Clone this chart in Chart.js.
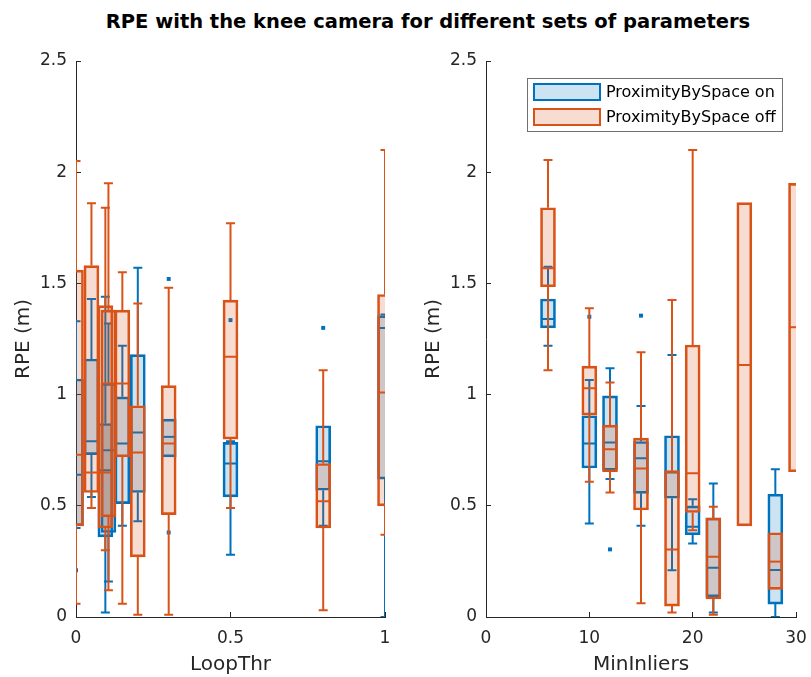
<!DOCTYPE html>
<html lang="en">
<head>
<meta charset="UTF-8">
<title>RPE with the knee camera</title>
<script src="https://cdn.jsdelivr.net/npm/chart.js"></script>
<style>
    body {
        margin: 0;
        background-color: #ffffff;
        font-family: "DejaVu Sans", sans-serif;
    }

    #figure {
        position: relative;
        width: 811px;
        height: 677px;
        overflow: hidden;
    }

    h1 {
        position: absolute;
        top: 12px;
        left: 0;
        width: 856px;
        margin: 0;
        text-align: center;
        font-size: 19.5px;
        line-height: 19px;
        font-weight: bold;
        color: #000000;
    }

    canvas {
        position: absolute;
        top: 0;
    }

    #loopChart {
        left: 0;
    }

    #inliersChart {
        left: 410px;
    }
</style>
</head>
<body>
<div id="figure">
    <h1>RPE with the knee camera for different sets of parameters</h1>
    <canvas id="loopChart" width="405" height="677"></canvas>
    <canvas id="inliersChart" width="401" height="677"></canvas>
</div>
<script>
    // LoopThr: box statistics per threshold (whisker low, Q1, median, Q3, whisker high)
    const loopThr = [0, 0.05, 0.095, 0.105, 0.15, 0.2, 0.3, 0.5, 0.8, 1];

    const loopOnLow  = [0.40, 0.54, 0.02, 0.16, 0.41, 0.43, 0.72, 0.28, 0.41, 0.00];
    const loopOnQ1   = [0.41, 0.73, 0.36, 0.38, 0.51, 0.56, 0.72, 0.54, 0.57, 0.62];
    const loopOnMed  = [0.64, 0.79, 0.66, 0.75, 0.78, 0.83, 0.81, 0.69, 0.70, 1.30];
    const loopOnQ3   = [1.07, 1.16, 0.87, 1.05, 0.99, 1.18, 0.89, 0.785, 0.86, 1.355];
    const loopOnHigh = [1.33, 1.43, 1.44, 1.32, 1.22, 1.57, 0.89, 0.79, 0.86, 1.36];

    const loopOffLow  = [0.06, 0.49, 0.30, 0.12, 0.06, 0.01, 0.01, 0.49, 0.03, 0.37];
    const loopOffQ1   = [0.41, 0.56, 0.40, 0.45, 0.72, 0.27, 0.46, 0.80, 0.40, 0.50];
    const loopOffMed  = [0.73, 0.65, 0.65, 1.05, 1.05, 0.74, 0.78, 1.17, 0.52, 1.01];
    const loopOffQ3   = [1.56, 1.58, 1.40, 1.38, 1.38, 0.95, 1.04, 1.425, 0.69, 1.45];
    const loopOffHigh = [2.05, 1.86, 1.84, 1.95, 1.55, 1.41, 1.48, 1.77, 1.11, 2.10];

    const loopOutX = [0, 0.3, 0.3, 0.5, 0.8];
    const loopOutY = [0.21, 1.52, 0.38, 1.335, 1.30];

    // MinInliers (null = no run with ProximityBySpace on)
    const minInliers = [6, 10, 12, 15, 18, 20, 22, 25, 28, 30];

    const inlOnLow  = [1.22, 0.42, 0.62, 0.41, 0.21, 0.33, 0.02, null, 0.00, null];
    const inlOnQ1   = [1.30, 0.67, 0.66, 0.556, 0.534, 0.37, 0.091, null, 0.058, null];
    const inlOnMed  = [1.34, 0.78, 0.785, 0.714, 0.65, 0.406, 0.222, null, 0.211, null];
    const inlOnQ3   = [1.43, 0.905, 0.994, 0.789, 0.815, 0.50, 0.445, null, 0.552, null];
    const inlOnHigh = [1.575, 1.066, 1.118, 0.949, 1.178, 0.529, 0.60, null, 0.664, null];

    const inlOffLow  = [1.11, 0.608, 0.56, 0.062, 0.02, 0.39, 0.01, 0.41, 0.124, 0.653];
    const inlOffQ1   = [1.485, 0.908, 0.653, 0.481, 0.049, 0.47, 0.081, 0.41, 0.124, 0.653];
    const inlOffMed  = [1.568, 1.028, 0.754, 0.668, 0.304, 0.646, 0.271, 1.133, 0.249, 1.303];
    const inlOffQ3   = [1.84, 1.128, 0.863, 0.804, 0.658, 1.223, 0.446, 1.863, 0.379, 1.95];
    const inlOffHigh = [2.055, 1.388, 1.054, 1.19, 1.425, 2.10, 0.496, 1.863, 0.379, 1.95];

    const inlOutX = [10, 12, 15];
    const inlOutY = [1.35, 0.304, 1.355];

    const rpeTicks = [0, 0.5, 1, 1.5, 2, 2.5];

    const BLUE = '#0072BD';
    const ORANGE = '#D95319';
    const AXIS = '#262626';

    function boxes(xs, lo, q1, med, q3, hi) {
        var out = [];
        xs.forEach(function (x, i) {
            if (q1[i] === null) return;
            out.push({x: x, y: [q1[i], q3[i]], lo: lo[i], med: med[i], hi: hi[i]});
        });
        return out;
    }

    function points(xs, ys) {
        return xs.map(function (x, i) { return {x: x, y: ys[i]}; });
    }

    // plain number labels: 0, 0.5, 1 ...
    function plainLabel(v) {
        return String(Math.round(v * 100) / 100);
    }

    // whiskers, caps and median of each box, drawn right after its own bars
    const whiskerPlugin = {
        id: 'whiskers',
        afterDatasetDraw: function (chart, args) {
            if (args.meta.type !== 'bar') return;
            var ds = chart.data.datasets[args.index];
            var y = chart.scales.y;
            var area = chart.chartArea;
            var ctx = chart.ctx;
            ctx.save();
            ctx.beginPath();
            ctx.rect(area.left, area.top, area.right - area.left, area.bottom - area.top);
            ctx.clip();
            ctx.strokeStyle = ds.borderColor;
            ctx.lineWidth = 2;
            args.meta.data.forEach(function (bar, i) {
                var d = ds.data[i];
                var half = bar.width / 2;
                var cap = half * 0.6;
                var yLo = y.getPixelForValue(d.lo);
                var yHi = y.getPixelForValue(d.hi);
                var yQ1 = y.getPixelForValue(d.y[0]);
                var yQ3 = y.getPixelForValue(d.y[1]);
                var yMed = y.getPixelForValue(d.med);
                ctx.beginPath();
                if (d.hi > d.y[1]) {
                    ctx.moveTo(bar.x, yQ3);
                    ctx.lineTo(bar.x, yHi);
                    ctx.moveTo(bar.x - cap, yHi);
                    ctx.lineTo(bar.x + cap, yHi);
                }
                if (d.lo < d.y[0]) {
                    ctx.moveTo(bar.x, yQ1);
                    ctx.lineTo(bar.x, yLo);
                    ctx.moveTo(bar.x - cap, yLo);
                    ctx.lineTo(bar.x + cap, yLo);
                }
                ctx.moveTo(bar.x - half + 1, yMed);
                ctx.lineTo(bar.x + half - 1, yMed);
                ctx.stroke();
            });
            ctx.restore();
        }
    };

    // framed legend in the upper right corner of the plot
    const boxLegend = {
        id: 'boxLegend',
        afterDraw: function (chart) {
            var area = chart.chartArea;
            var ctx = chart.ctx;
            var w = 255, h = 53;
            var left = area.right - 14 - w;
            var top = area.top + 17;
            ctx.save();
            ctx.fillStyle = '#ffffff';
            ctx.fillRect(left, top, w, h);
            ctx.strokeStyle = '#707070';
            ctx.lineWidth = 1;
            ctx.strokeRect(left + 0.5, top + 0.5, w, h);
            ctx.font = '16px "DejaVu Sans"';
            ctx.textBaseline = 'middle';
            var row = 0;
            chart.data.datasets.forEach(function (ds) {
                if (ds.type !== 'bar') return;
                var sy = top + 5 + row * 25;
                ctx.fillStyle = ds.backgroundColor;
                ctx.fillRect(left + 6, sy, 68, 18);
                ctx.strokeStyle = ds.borderColor;
                ctx.lineWidth = 2;
                ctx.strokeRect(left + 7, sy + 1, 66, 16);
                ctx.fillStyle = '#000000';
                ctx.fillText(ds.label, left + 79, sy + 10);
                row++;
            });
            ctx.restore();
        }
    };

    function boxDataset(label, data, fill, line, order) {
        return {
            type: 'bar',
            label: label,
            data: data,
            backgroundColor: fill,
            borderColor: line,
            borderWidth: 2,
            borderSkipped: false,
            barThickness: 15,
            stack: 'box',
            order: order,
            clip: 0
        };
    }

    function scales(xMin, xMax, xStep, xTitle) {
        var tickFont = {family: 'DejaVu Sans', size: 17};
        var titleFont = {family: 'DejaVu Sans', size: 20};
        return {
            x: {
                type: 'linear',
                min: xMin,
                max: xMax,
                offset: false,
                ticks: {stepSize: xStep, padding: 16, color: AXIS, font: tickFont, maxRotation: 0, callback: plainLabel},
                grid: {offset: false, drawOnChartArea: false, tickLength: -5, color: AXIS},
                border: {color: AXIS},
                title: {display: true, text: xTitle, color: AXIS, font: titleFont, padding: 0},
                afterFit: function (s) {
                    s.height = 60;
                    s.paddingLeft = 0;
                    s.paddingRight = 0;
                }
            },
            y: {
                type: 'linear',
                min: 0,
                max: 2.5,
                stacked: false,
                afterBuildTicks: function (s) { s.ticks = rpeTicks.map(function (v) { return {value: v}; }); },
                ticks: {padding: 14, color: AXIS, font: tickFont, callback: plainLabel},
                grid: {drawOnChartArea: false, tickLength: -5, color: AXIS},
                border: {color: AXIS},
                title: {display: true, text: 'RPE (m)', color: AXIS, font: titleFont, padding: {top: 12, bottom: 0}},
                afterFit: function (s) {
                    s.width = 76;
                    s.paddingTop = 0;
                    s.paddingBottom = 0;
                }
            }
        };
    }

    function makeChart(id, xs, on, off, outX, outY, xRange, xTitle, rightPad, extra) {
        return new Chart(document.getElementById(id), {
            type: 'bar',
            data: {
                datasets: [
                    boxDataset('ProximityBySpace on', boxes(xs, on[0], on[1], on[2], on[3], on[4]),
                        'rgba(0, 114, 189, 0.2)', BLUE, 3),
                    {
                        type: 'scatter',
                        label: 'outliers',
                        data: points(outX, outY),
                        backgroundColor: BLUE,
                        borderWidth: 0,
                        pointStyle: 'rect',
                        pointRadius: 2.8,
                        order: 2,
                        clip: 0
                    },
                    boxDataset('ProximityBySpace off', boxes(xs, off[0], off[1], off[2], off[3], off[4]),
                        'rgba(217, 83, 25, 0.2)', ORANGE, 1)
                ]
            },
            options: {
                responsive: false,
                animation: false,
                layout: {padding: {top: 61, right: rightPad, left: 0, bottom: 0}},
                scales: scales(xRange[0], xRange[1], xRange[2], xTitle),
                plugins: {legend: {display: false}, tooltip: {enabled: false}}
            },
            plugins: [whiskerPlugin].concat(extra)
        });
    }

    makeChart('loopChart', loopThr,
        [loopOnLow, loopOnQ1, loopOnMed, loopOnQ3, loopOnHigh],
        [loopOffLow, loopOffQ1, loopOffMed, loopOffQ3, loopOffHigh],
        loopOutX, loopOutY, [0, 1, 0.5], 'LoopThr', 20, []);

    makeChart('inliersChart', minInliers,
        [inlOnLow, inlOnQ1, inlOnMed, inlOnQ3, inlOnHigh],
        [inlOffLow, inlOffQ1, inlOffMed, inlOffQ3, inlOffHigh],
        inlOutX, inlOutY, [0, 30, 10], 'MinInliers', 15, [boxLegend]);
</script>
</body>
</html>
